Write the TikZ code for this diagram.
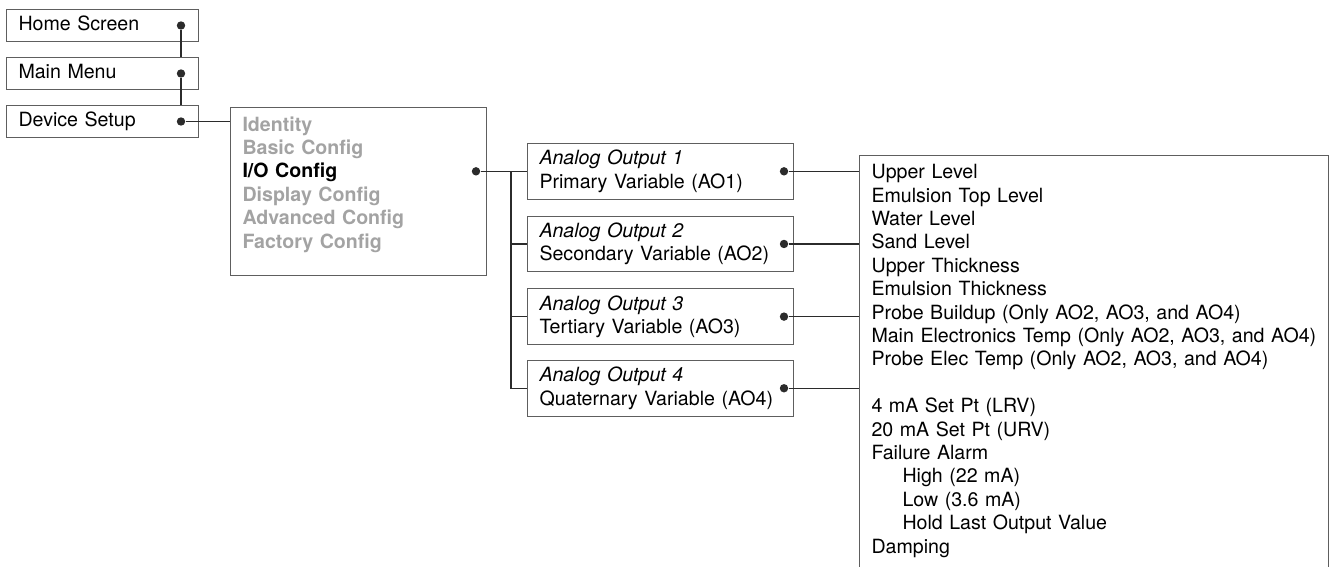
\documentclass[tikz,border=0pt]{standalone}
\usepackage{fontspec}
\setmainfont{TeX Gyre Heros}
\usetikzlibrary{positioning, calc}
\definecolor{lineaOscura}{HTML}{2B2B2B}
\definecolor{bordeGris}{HTML}{5E5E5E}
\definecolor{textoGris}{HTML}{A3A3A3}
\tikzset{
  menuBase/.style={
    draw=bordeGris, line width=0.5pt, rectangle,
    inner xsep=6pt, align=left, text=black,
    font=\fontsize{9.8}{11.7}\selectfont
  },
  screenBox/.style={menuBase, anchor=north west, minimum height=16pt,
    text width=84pt, text height=7.2pt, text depth=2pt},
  outputBox/.style={menuBase, minimum height=27.5pt, text width=121pt},
  listBox/.style={menuBase, anchor=north west, inner ysep=4.5pt},
  dotMark/.style={circle, fill=lineaOscura, inner sep=0pt, minimum size=4.2pt},
  linkLine/.style={draw=lineaOscura, line width=0.7pt},
}

\begin{document}
\begin{tikzpicture}[x=0.5pt, y=-0.5pt]
    \clip (0,0) rectangle (1329,567);

    % screens down to the setup menu
    \node[screenBox] (homeBox) at (6,9) {Home Screen};
    \node[screenBox] (mainBox) at (6,57) {Main Menu};
    \node[screenBox] (deviceBox) at (6,105) {Device Setup};
    \node[dotMark] (homeDot) at ($(homeBox.east)+(-18,0)$) {};
    \node[dotMark] (mainDot) at ($(mainBox.east)+(-18,0)$) {};
    \node[dotMark] (deviceDot) at ($(deviceBox.east)+(-18,0)$) {};

    \node[listBox, text width=116pt, text depth=67.5pt,
          font=\fontsize{9.8}{11.7}\selectfont\bfseries] (setupMenu) at (230,107)
      {\textcolor{textoGris}{Identity}\\
       \textcolor{textoGris}{Basic Config}\\
       I/O Config\\
       \textcolor{textoGris}{Display Config}\\
       \textcolor{textoGris}{Advanced Config}\\
       \textcolor{textoGris}{Factory Config}};

    \draw[linkLine] (homeDot) -- (homeDot |- mainBox.north);
    \draw[linkLine] (mainDot) -- (mainDot |- deviceBox.north);
    \draw[linkLine] (deviceDot) -- (deviceDot -| setupMenu.west);

    % analog outputs
    \node[outputBox, anchor=north west] (aoOne) at (527,143)
      {\textit{Analog Output 1}\\Primary Variable (AO1)};
    \node[outputBox, below=8pt of aoOne] (aoTwo)
      {\textit{Analog Output 2}\\Secondary Variable (AO2)};
    \node[outputBox, below=8pt of aoTwo] (aoThree)
      {\textit{Analog Output 3}\\Tertiary Variable (AO3)};
    \node[outputBox, below=7.5pt of aoThree] (aoFour)
      {\textit{Analog Output 4}\\Quaternary Variable (AO4)};

    \node[dotMark] (ioDot) at ($(setupMenu.east |- aoOne.west)+(-11,0)$) {};
    \coordinate (busTop) at ($(aoOne.west)+(-16,0)$);
    \draw[linkLine] (ioDot) -- (aoOne.west);
    \foreach \n in {aoTwo, aoThree, aoFour}
      \draw[linkLine] (busTop) |- (\n.west);

    % variable list
    \node[listBox, text width=222.5pt, text depth=200pt] (varList) at (859,155)
      {Upper Level\\
       Emulsion Top Level\\
       Water Level\\
       Sand Level\\
       Upper Thickness\\
       Emulsion Thickness\\
       Probe Buildup (Only AO2, AO3, and AO4)\\
       Main Electronics Temp (Only AO2, AO3, and AO4)\\
       Probe Elec Temp (Only AO2, AO3, and AO4)\\[11.7pt]
       4 mA Set Pt (LRV)\\
       20 mA Set Pt (URV)\\
       Failure Alarm\\
       \hspace*{15.5pt}High (22 mA)\\
       \hspace*{15.5pt}Low (3.6 mA)\\
       \hspace*{15.5pt}Hold Last Output Value\\
       Damping};

    \foreach \n in {aoOne, aoTwo, aoThree, aoFour} {
      \node[dotMark] (\n-dot) at ($(\n.east)+(-10,0)$) {};
      \draw[linkLine] (\n-dot) -- (\n-dot -| varList.west);
    }
\end{tikzpicture}
\end{document}
